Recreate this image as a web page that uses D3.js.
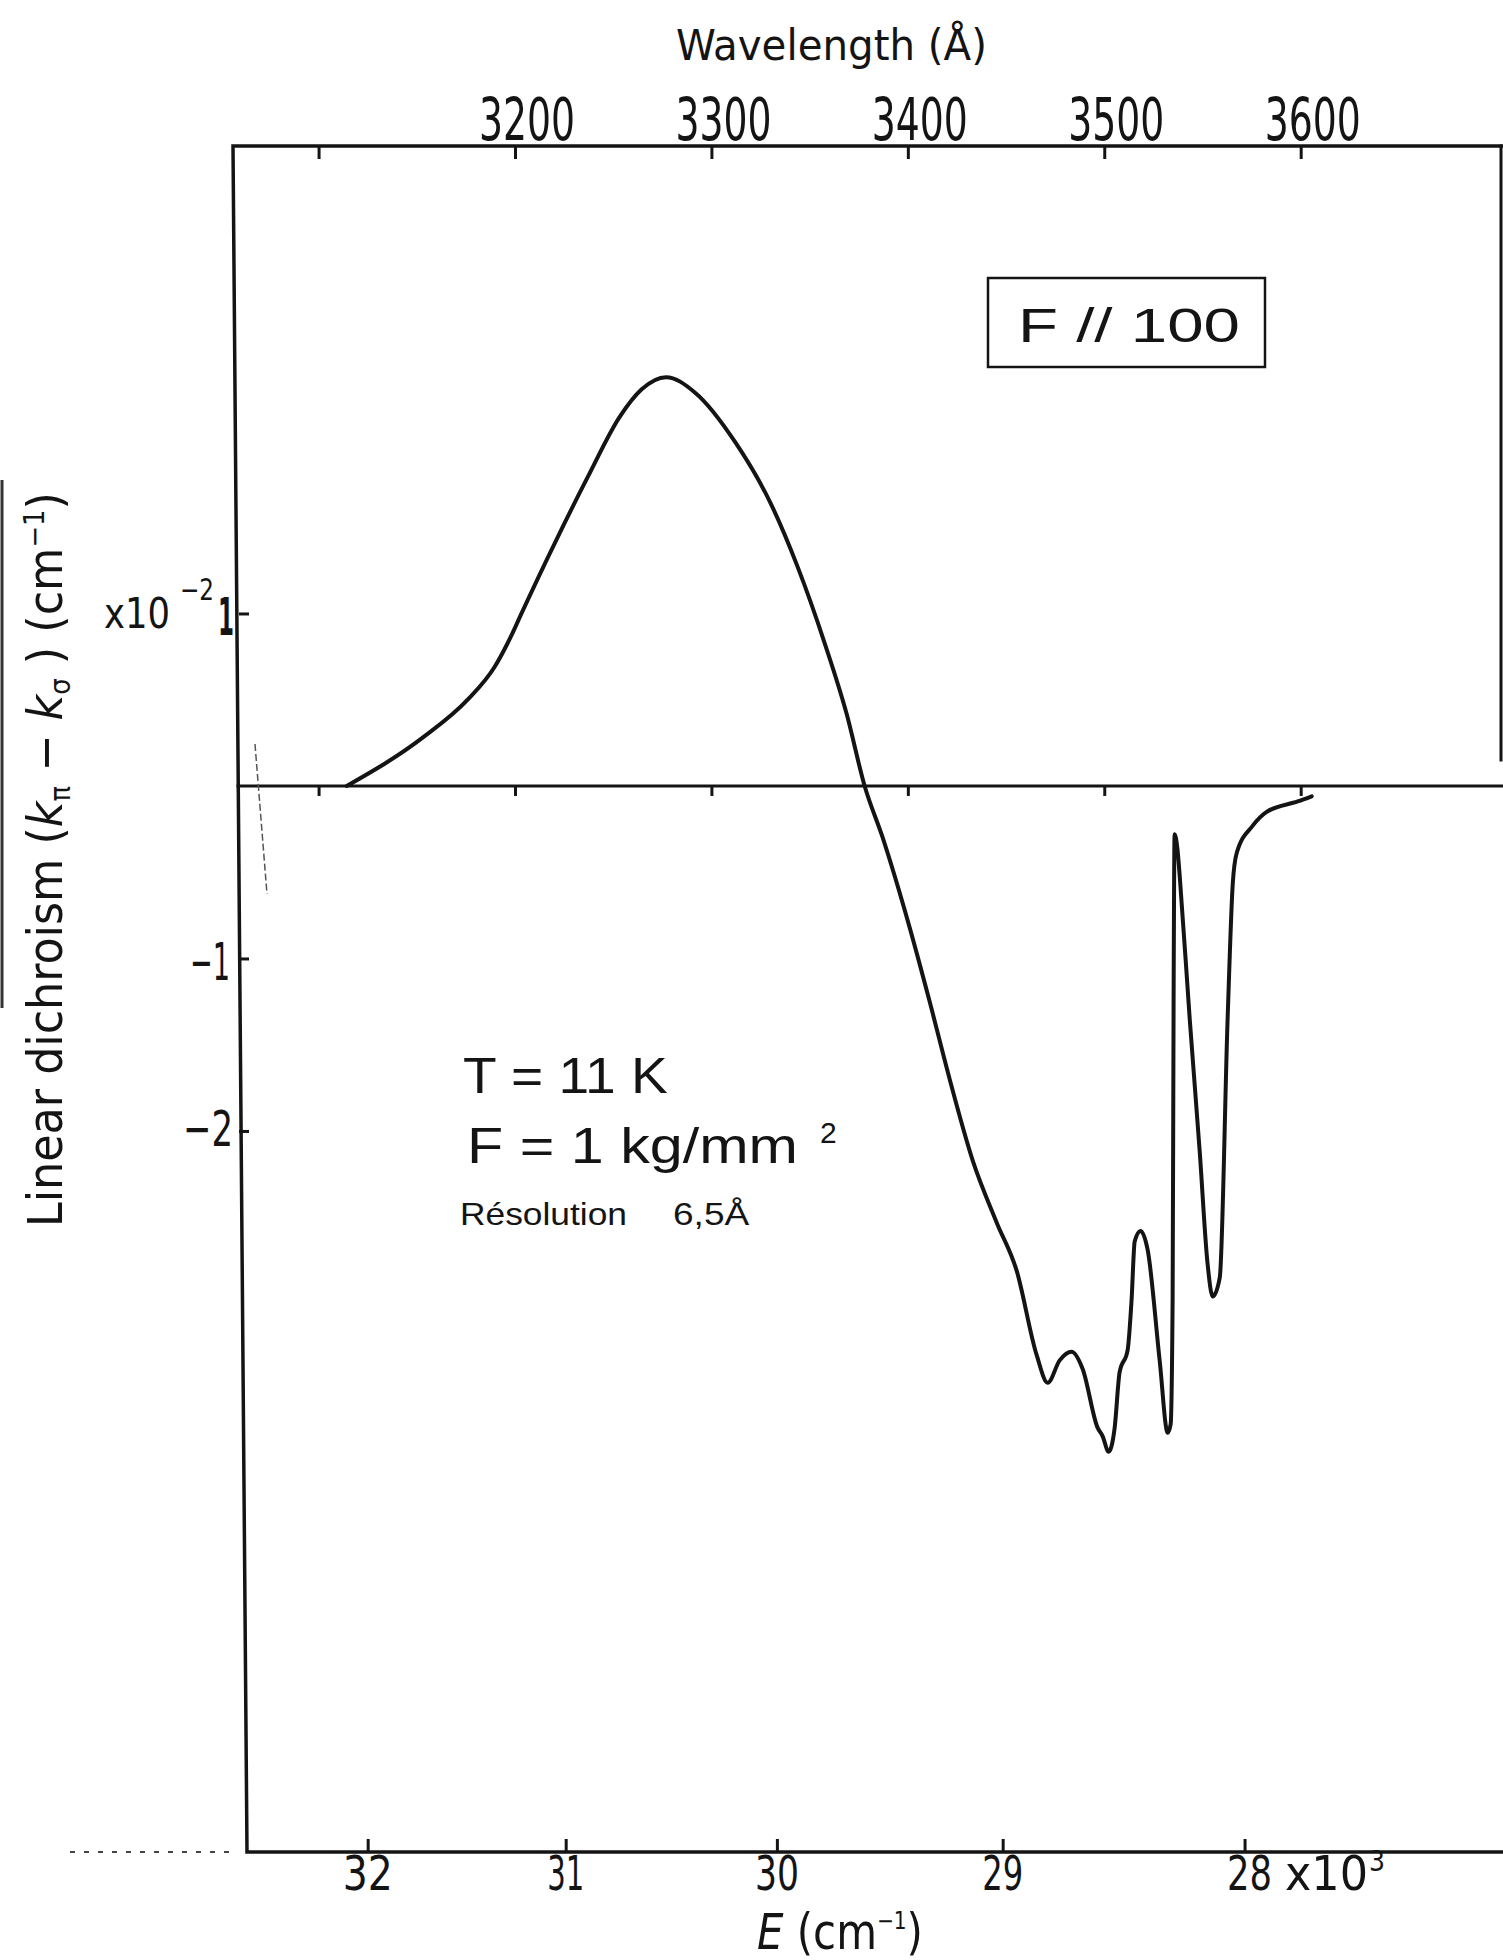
<!DOCTYPE html>
<html><head><meta charset="utf-8">
<script src="https://cdn.jsdelivr.net/npm/d3@7"></script>
<style>body{margin:0;background:#fff} svg{display:block}</style>
</head><body>
<script>
// ---- data ----
const wavelengthTicks = [3100, 3200, 3300, 3400, 3500, 3600];
const wavelengthLabels = ["", "3200", "3300", "3400", "3500", "3600"];
const energyTicks = [32000, 31000, 30000, 29000, 28000];
const energyLabels = ["32", "31", "30", "29", "28"];
const yTickValues = [1, -1, -2];
// wavelength in Angstrom
const wavelength = [3114.3, 3153.0, 3175.9, 3189.6, 3198.5, 3202.9, 3221.2, 3237.0, 3253.3, 3264.5,
  3276.9, 3291.7, 3312.3, 3330.1, 3343.9, 3357.6, 3368.8, 3378.0, 3387.2, 3400.9,
  3411.1, 3421.3, 3433.0, 3445.2, 3455.4, 3465.6, 3471.2, 3477.3, 3483.4, 3489.0,
  3496.6, 3499.2, 3502.2, 3505.3, 3507.8, 3511.9, 3513.9, 3515.5, 3518.5, 3522.1,
  3528.2, 3532.3, 3533.8, 3534.8, 3535.3, 3535.8, 3537.3, 3538.4, 3543.5, 3548.6,
  3552.6, 3555.2, 3558.8, 3562.8, 3565.4, 3567.4, 3575.6, 3582.7, 3598.5, 3605.6];
// linear dichroism (k_pi - k_sigma), units 1e-2 cm^-1
const dichroism = [0.0, 0.28, 0.50, 0.69, 0.88, 0.99, 1.43, 1.79, 2.14, 2.30,
  2.37, 2.28, 1.99, 1.64, 1.27, 0.83, 0.42, 0.0, -0.30, -0.82,
  -1.25, -1.70, -2.17, -2.53, -2.81, -3.30, -3.46, -3.33, -3.28, -3.38,
  -3.72, -3.77, -3.86, -3.72, -3.40, -3.27, -2.98, -2.64, -2.58, -2.69,
  -3.33, -3.75, -3.70, -2.98, -1.24, -0.28, -0.37, -0.52, -1.35, -2.12,
  -2.77, -2.96, -2.85, -1.35, -0.57, -0.39, -0.23, -0.15, -0.09, -0.06];

// ---- layout ----
const W = 1503, H = 1960;
const INK = "#141414";
const NARROW = "'Liberation Sans Narrow','DejaVu Sans Condensed','Liberation Sans',Arial,sans-serif";
const SANS = "'Liberation Sans',Arial,sans-serif";

const svg = d3.select("body").append("svg").attr("width", W).attr("height", H)
  .style("background", "#fff");

const x = d3.scaleLinear().domain([3060, 3703]).range([240, 1503]);
const y = d3.scaleLinear().domain([-6.18, 3.71]).range([1852, 146]);

function label(px, py, parts, o) {
  const g = svg.append("g");
  const t = g.append("text").attr("font-family", o.family || NARROW)
    .attr("font-size", o.size).attr("fill", INK);
  if (o.weight) t.attr("font-weight", o.weight);
  parts.forEach(p => {
    const s = t.append("tspan").text(p.t);
    if (p.size) s.attr("font-size", p.size);
    if (p.italic) s.attr("font-style", "italic");
    if (p.dy) s.attr("dy", p.dy);
    if (p.dx) s.attr("dx", p.dx);
  });
  const bb = t.node().getBBox();
  const sx = o.width ? o.width / bb.width : 1;
  const a = o.anchor || "start";
  const off = a === "middle" ? -bb.x - bb.width / 2 : a === "end" ? -bb.x - bb.width : -bb.x;
  t.attr("x", off);
  g.attr("transform", `translate(${px},${py}) rotate(${o.rotate || 0}) scale(${sx},1)`);
  return g;
}

// ---- frame ----
const frame = svg.append("g").attr("stroke", INK).attr("fill", "none").attr("stroke-linecap", "square");
frame.append("path").attr("d", `M${W},146 L233,146 L247,1852 L${W},1852`).attr("stroke-width", 3.5);
frame.append("line").attr("x1", 1501).attr("x2", 1501).attr("y1", 146).attr("y2", 760).attr("stroke-width", 3);
// zero line
frame.append("line").attr("x1", 238).attr("x2", W).attr("y1", y(0)).attr("y2", y(0)).attr("stroke-width", 3);

// scan artefacts
svg.append("line").attr("x1", 255).attr("y1", 744).attr("x2", 267).attr("y2", 894)
  .attr("stroke", "#555").attr("stroke-width", 1.5).attr("stroke-dasharray", "7 3");
svg.append("line").attr("x1", 2).attr("y1", 480).attr("x2", 2).attr("y2", 1008)
  .attr("stroke", "#333").attr("stroke-width", 3);
svg.append("line").attr("x1", 70).attr("y1", 1852).attr("x2", 236).attr("y2", 1852)
  .attr("stroke", "#444").attr("stroke-width", 2).attr("stroke-dasharray", "5 9");

function styleAxis(g) {
  g.select(".domain").remove();
  g.selectAll(".tick line").attr("stroke", INK).attr("stroke-width", 3);
  g.selectAll(".tick text").remove();
}

// top wavelength ticks
svg.append("g").attr("transform", "translate(0,146)")
  .call(d3.axisBottom(x).tickValues(wavelengthTicks).tickSize(13)).call(styleAxis);
// ticks on zero line
svg.append("g").attr("transform", `translate(0,${y(0)})`)
  .call(d3.axisBottom(x).tickValues(wavelengthTicks).tickSize(10)).call(styleAxis);
// bottom energy ticks (E -> wavelength)
svg.append("g").attr("transform", "translate(0,1852)")
  .call(d3.axisTop(x).tickValues(energyTicks.map(e => 1e8 / e)).tickSize(13)).call(styleAxis);
// y ticks
svg.append("g").attr("transform", "translate(239,0)")
  .call(d3.axisRight(y).tickValues(yTickValues).tickSize(10)).call(styleAxis);

// ---- curve ----
const pts = wavelength.map((w, i) => [w, dichroism[i]]);
svg.append("path").datum(pts)
  .attr("fill", "none").attr("stroke", INK).attr("stroke-width", 4)
  .attr("stroke-linejoin", "round").attr("stroke-linecap", "round")
  .attr("d", d3.line().x(d => x(d[0])).y(d => y(d[1])).curve(d3.curveMonotoneX));

// ---- texts ----
label(676, 60, [{t: "Wavelength  (Å)"}], {size: 42, width: 311});
wavelengthTicks.forEach((w, i) => {
  if (wavelengthLabels[i]) label(x(w) + 12, 140, [{t: wavelengthLabels[i]}], {size: 58, width: 96, anchor: "middle"});
});

// y tick labels
label(104, 628, [{t: "x10"}], {size: 42, width: 66});
label(180, 600, [{t: "−2"}], {size: 30, width: 34});
label(234, 635, [{t: "1"}], {size: 52, anchor: "end", width: 16, weight: "bold"});
label(230, 980, [{t: "−1"}], {size: 52, anchor: "end", width: 40});
label(233, 1146, [{t: "−2"}], {size: 50, anchor: "end", width: 50});

// y title
label(62, 1227, [
  {t: "Linear  dichroism  ("},
  {t: "k", italic: true},
  {t: "π", size: 28, dy: 8},
  {t: " − ", dy: -8},
  {t: "k", italic: true},
  {t: "σ", size: 28, dy: 8},
  {t: " )  (cm", dy: -8},
  {t: "−1", size: 28, dy: -18},
  {t: ")", dy: 18}
], {size: 48, rotate: -90, width: 735});

// bottom energy labels
const bottomWidths = [50, 37, 44, 41, 45];
energyTicks.forEach((e, i) => {
  label(x(1e8 / e) + (i === 4 ? 5 : 0), 1890, [{t: energyLabels[i]}], {size: 48, width: bottomWidths[i], anchor: "middle"});
});
label(1285, 1890, [{t: "x10"}], {size: 48, width: 83});
label(1369, 1871, [{t: "3"}], {size: 28, width: 16});
label(757, 1949, [{t: "E", italic: true}, {t: " (cm"}, {t: "−1", size: 24, dy: -20}, {t: ")", dy: 20}], {size: 50, width: 166});

// box
svg.append("rect").attr("x", 988).attr("y", 278).attr("width", 277).attr("height", 89)
  .attr("fill", "none").attr("stroke", INK).attr("stroke-width", 2.5);
label(1018, 342, [{t: "F  //  100"}], {family: SANS, size: 48, width: 222});

// annotations
label(463, 1093, [{t: "T = 11 K"}], {family: SANS, size: 50, width: 205});
label(467, 1163, [{t: "F = 1 kg/mm"}], {family: SANS, size: 50, width: 331});
label(820, 1143, [{t: "2"}], {family: SANS, size: 30});
label(460, 1225, [{t: "Résolution"}], {family: SANS, size: 32, width: 167});
label(673, 1225, [{t: "6,5Å"}], {family: SANS, size: 32, width: 77});
</script>
</body></html>
